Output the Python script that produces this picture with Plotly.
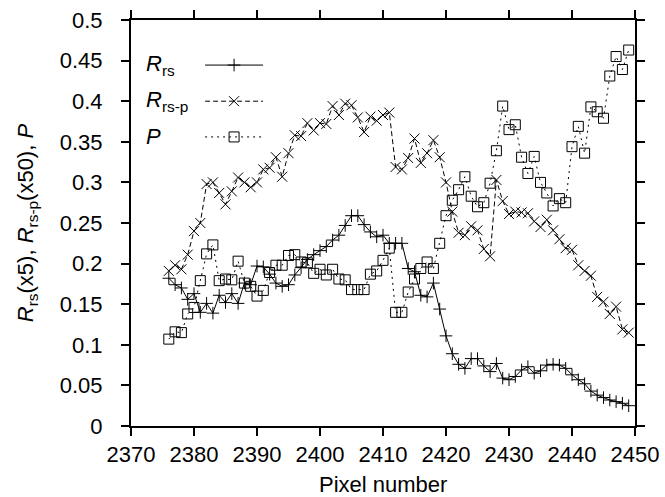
import plotly.graph_objects as go

pixel = list(range(2376, 2450))

r_rs = [0.182, 0.174, 0.170, 0.156, 0.163, 0.140, 0.151, 0.139, 0.161, 0.152,
        0.163, 0.151, 0.176, 0.174, 0.197, 0.196, 0.187, 0.176, 0.172, 0.174,
        0.186, 0.195, 0.205, 0.211, 0.216, 0.221, 0.229, 0.235, 0.247, 0.259,
        0.259, 0.248, 0.239, 0.233, 0.235, 0.225, 0.225, 0.225, 0.194, 0.190,
        0.161, 0.159, 0.176, 0.144, 0.111, 0.089, 0.076, 0.071, 0.083, 0.083,
        0.074, 0.067, 0.077, 0.059, 0.057, 0.061, 0.069, 0.073, 0.065, 0.068,
        0.075, 0.076, 0.075, 0.071, 0.063, 0.057, 0.052, 0.043, 0.038, 0.035,
        0.032, 0.030, 0.028, 0.025]

r_rs_p = [0.191, 0.198, 0.193, 0.211, 0.240, 0.250, 0.298, 0.300, 0.287, 0.273,
          0.289, 0.306, 0.300, 0.294, 0.300, 0.316, 0.318, 0.331, 0.307, 0.336,
          0.358, 0.357, 0.373, 0.364, 0.373, 0.372, 0.394, 0.383, 0.397, 0.395,
          0.380, 0.362, 0.381, 0.376, 0.383, 0.386, 0.319, 0.316, 0.330, 0.354,
          0.324, 0.336, 0.352, 0.331, 0.300, 0.264, 0.238, 0.235, 0.246, 0.241,
          0.218, 0.209, 0.303, 0.277, 0.261, 0.264, 0.263, 0.262, 0.252, 0.245,
          0.254, 0.241, 0.230, 0.219, 0.217, 0.198, 0.191, 0.185, 0.159, 0.153,
          0.138, 0.147, 0.119, 0.115]

p_vals = [0.107, 0.116, 0.115, 0.138, 0.146, 0.179, 0.212, 0.223, 0.179, 0.181,
          0.180, 0.203, 0.176, 0.172, 0.160, 0.167, 0.189, 0.198, 0.198, 0.210,
          0.211, 0.202, 0.201, 0.188, 0.193, 0.186, 0.193, 0.181, 0.180, 0.168,
          0.168, 0.168, 0.187, 0.191, 0.204, 0.219, 0.140, 0.140, 0.165, 0.181,
          0.194, 0.202, 0.194, 0.225, 0.259, 0.278, 0.291, 0.307, 0.283, 0.270,
          0.275, 0.299, 0.339, 0.394, 0.365, 0.371, 0.331, 0.311, 0.332, 0.300,
          0.287, 0.271, 0.280, 0.275, 0.344, 0.369, 0.336, 0.393, 0.387, 0.379,
          0.431, 0.455, 0.439, 0.463]

series_names = ["<i>R</i><sub>rs</sub>", "<i>R</i><sub>rs-p</sub>", "<i>P</i>"]
x_ticks = list(range(2370, 2451, 10))
y_ticks = [0, 0.05, 0.1, 0.15, 0.2, 0.25, 0.3, 0.35, 0.4, 0.45, 0.5]
y_tick_text = ["0", "0.05", "0.1", "0.15", "0.2", "0.25", "0.3", "0.35", "0.4", "0.45", "0.5"]
x_title = "Pixel number"
y_title = "<i>R</i><sub>rs</sub>(x5), <i>R</i><sub>rs-p</sub>(x50), <i>P</i>"

FONT = "Liberation Sans, Arial, sans-serif"
styles = [
    dict(dash="solid", symbol="cross-thin-open", size=9),
    dict(dash="5px,3px", symbol="x-thin-open", size=10),
    dict(dash="2px,4px", symbol="square-open", size=10),
]
data = [r_rs, r_rs_p, p_vals]

fig = go.Figure()
for vals, st in zip(data, styles):
    fig.add_trace(go.Scatter(
        x=pixel, y=vals, mode="lines+markers",
        line=dict(color="black", width=1, dash=st["dash"]),
        marker=dict(symbol=st["symbol"], size=st["size"], color="black",
                    line=dict(color="black", width=1)),
        showlegend=False, hoverinfo="skip"))

# manual legend (text left, sample right) on an overlay axis in paper-like units
leg_rows = [0.889, 0.800, 0.712]
for name, st, ry in zip(series_names, styles, leg_rows):
    fig.add_trace(go.Scatter(
        x=[0.147, 0.262], y=[ry, ry], mode="lines", xaxis="x2", yaxis="y2",
        line=dict(color="black", width=1, dash=st["dash"]),
        showlegend=False, hoverinfo="skip"))
    fig.add_trace(go.Scatter(
        x=[0.2045], y=[ry], mode="markers", xaxis="x2", yaxis="y2",
        marker=dict(symbol=st["symbol"], size=st["size"], color="black",
                    line=dict(color="black", width=1)),
        showlegend=False, hoverinfo="skip"))
    fig.add_annotation(x=0.025, y=ry, xref="paper", yref="paper", text=name,
                       showarrow=False, xanchor="left", yanchor="middle",
                       font=dict(family=FONT, size=22, color="black"))

# axis titles
fig.add_annotation(x=0.5, y=-0.143, xref="paper", yref="paper", text=x_title,
                   showarrow=False, xanchor="center", yanchor="middle",
                   font=dict(family=FONT, size=22, color="black"))
fig.add_annotation(x=-0.206, y=0.5, xref="paper", yref="paper", text=y_title,
                   showarrow=False, xanchor="center", yanchor="middle", textangle=-90,
                   font=dict(family=FONT, size=22, color="black"))

axis_common = dict(showline=True, linecolor="black", linewidth=2, mirror="ticks",
                   ticks="outside", ticklen=8, tickwidth=1.5, tickcolor="black",
                   showgrid=False, zeroline=False, automargin=False,
                   tickfont=dict(family=FONT, size=22, color="black"))

fig.update_layout(
    width=665, height=497,
    margin=dict(l=131, r=30, t=20, b=71),
    paper_bgcolor="white", plot_bgcolor="white",
    showlegend=False,
    xaxis=dict(range=[2370, 2450], tickvals=x_ticks, ticklabelstandoff=0,
               **axis_common),
    yaxis=dict(range=[0, 0.5], tickvals=y_ticks, ticktext=y_tick_text,
               ticklabelstandoff=14, **axis_common),
    xaxis2=dict(overlaying="x", range=[0, 1], visible=False, fixedrange=True),
    yaxis2=dict(overlaying="y", range=[0, 1], visible=False, fixedrange=True),
)

fig.write_html("out.html", config={"displayModeBar": False},
               post_script="document.body.style.margin='0';document.body.style.padding='0';")
